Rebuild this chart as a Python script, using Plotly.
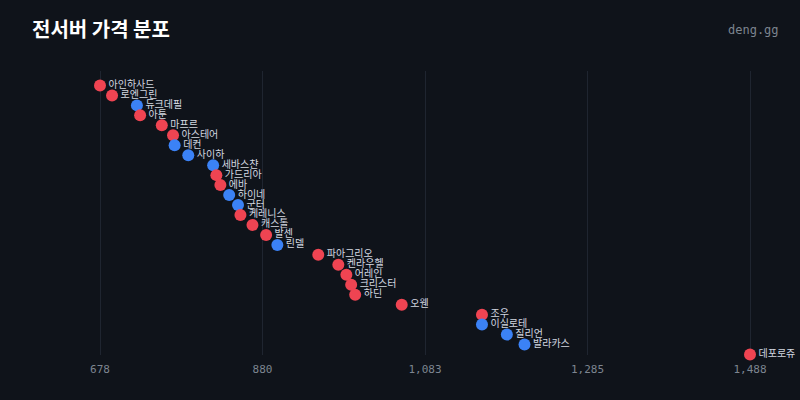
import plotly.graph_objects as go

servers = ["아인하사드", "로엔그린", "듀크데필", "아툰", "마프르", "아스테어", "데컨", "사이하",
           "세바스챤", "가드리아", "에바", "하이네", "군터", "케레니스", "캐스톨", "발센", "린델",
           "파아그리오", "켄라우헬", "어레인", "크리스터", "하딘", "오웬", "조우", "이실로테",
           "질리언", "발라카스", "데포로쥬"]
prices = [678, 693, 724, 728, 755, 769, 771, 788, 819, 823, 828, 839, 850, 853, 868, 885, 899,
          950, 975, 985, 991, 996, 1054, 1154, 1154, 1185, 1207, 1488]
groups = ["r", "r", "b", "r", "r", "r", "b", "b", "b", "r", "r", "b", "b", "r", "r", "r", "b",
          "r", "r", "r", "r", "r", "r", "r", "b", "b", "b", "r"]
tick_vals = [678, 880.5, 1083, 1285.5, 1488]
tick_text = ["678", "880", "1,083", "1,285", "1,488"]

RED = "#ef4452"
BLUE = "#3b82f6"
BG = "#0f131a"

ranks = list(range(len(servers)))
colors = [RED if g == "r" else BLUE for g in groups]

fig = go.Figure()
fig.add_trace(go.Scatter(
    x=prices, y=ranks, mode="markers+text",
    text=servers, textposition="middle right",
    textfont=dict(family="Noto Sans CJK KR", size=10, color="#d3d8e0"),
    marker=dict(size=12, color=colors, line=dict(width=0)),
    cliponaxis=False, hoverinfo="x+text",
))

fig.update_layout(
    width=800, height=400,
    paper_bgcolor=BG, plot_bgcolor=BG,
    margin=dict(l=97, r=47, t=71, b=45),
    showlegend=False,
    xaxis=dict(range=[674.26, 1491.74], tickvals=tick_vals, ticktext=tick_text,
               showgrid=True, gridcolor="#1f2530", gridwidth=1, zeroline=False,
               showline=False, ticks="", ticklabelstandoff=6,
               tickfont=dict(family="DejaVu Sans Mono", size=11, color="#7d8590")),
    yaxis=dict(range=[27.05, -1.45], showgrid=False, zeroline=False, showticklabels=False,
               showline=False),
)
fig.add_annotation(text="<b>전서버 가격 분포</b>", xref="paper", yref="paper",
                   x=-67/656, y=1 + 43/284, xanchor="left", yanchor="middle",
                   showarrow=False,
                   font=dict(family="Noto Sans CJK KR", size=20, color="#ffffff"))
fig.add_annotation(text="deng.gg", xref="paper", yref="paper",
                   x=1 + 28/656, y=1 + 41/284, xanchor="right", yanchor="middle",
                   showarrow=False,
                   font=dict(family="DejaVu Sans Mono", size=12, color="#7d8590"))

fig.write_html("out.html")
